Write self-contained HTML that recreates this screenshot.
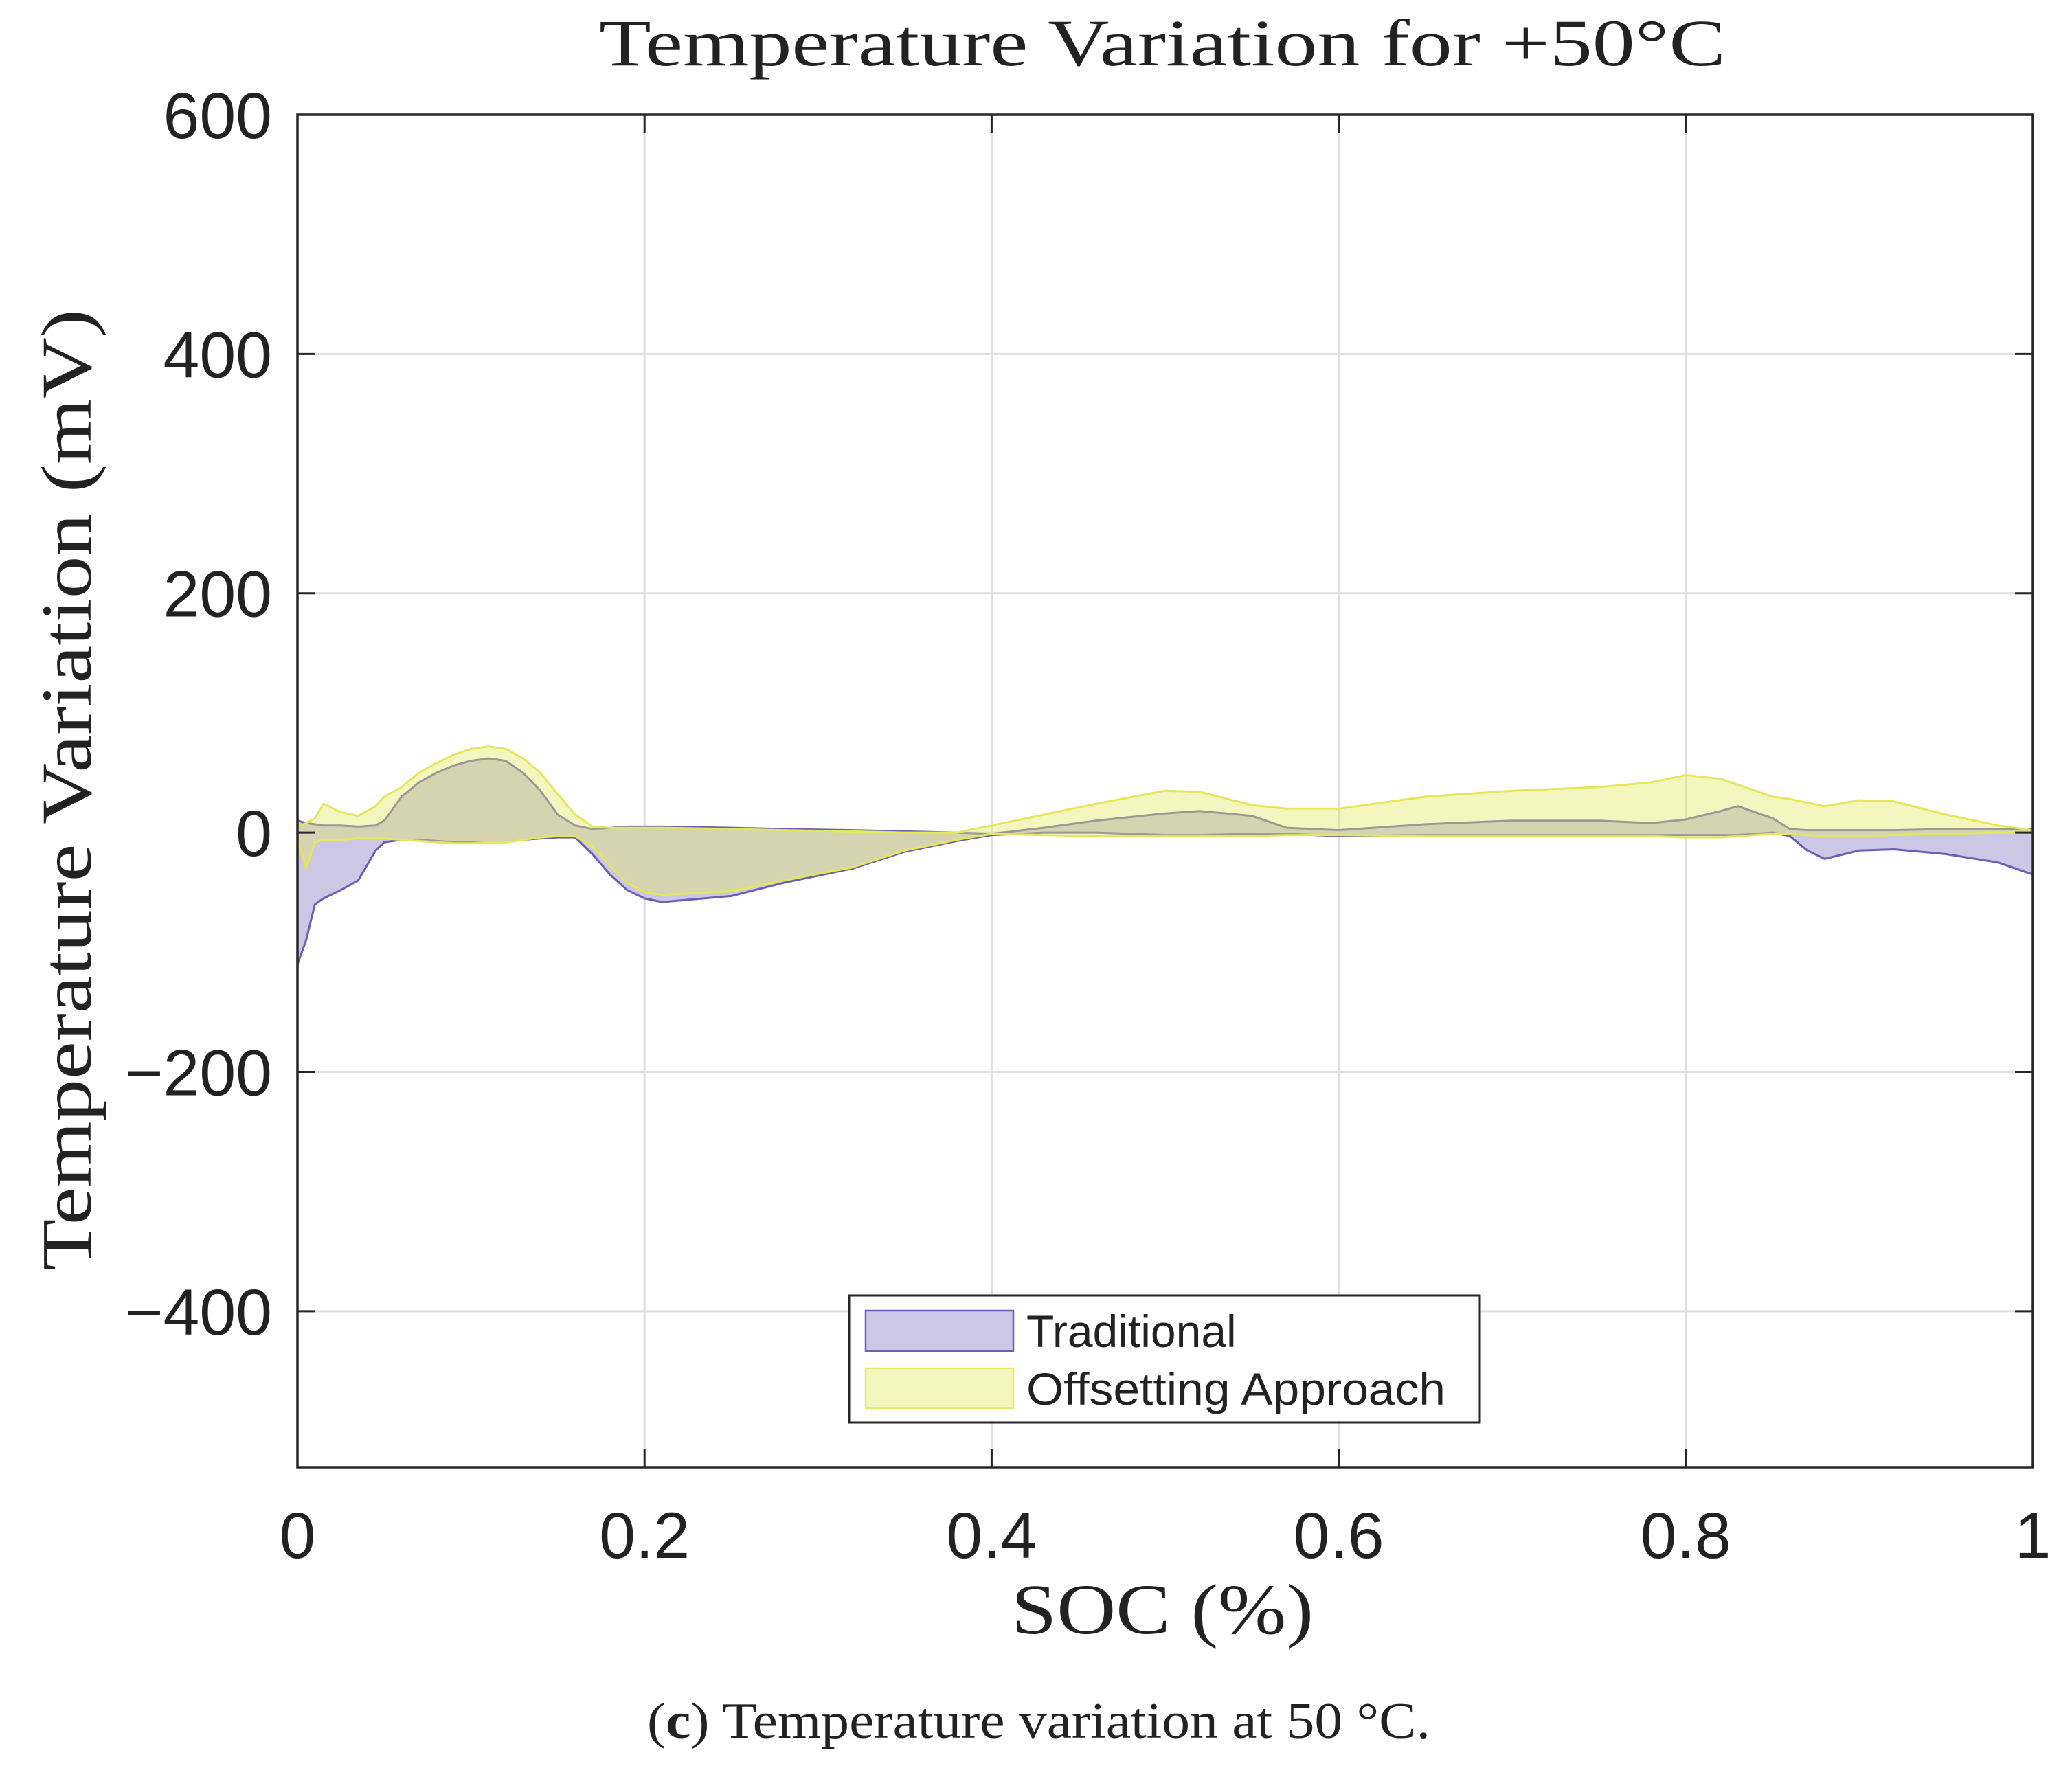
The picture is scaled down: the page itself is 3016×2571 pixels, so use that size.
<!DOCTYPE html>
<html><head><meta charset="utf-8"><style>
html,body{margin:0;padding:0;background:#fff;}
svg{display:block;}
</style></head><body>
<svg id="chart" xmlns="http://www.w3.org/2000/svg" width="3016" height="2571" viewBox="0 0 3016 2571">
<rect x="0" y="0" width="3016" height="2571" fill="#fff"/>
<g id="grid"></g>
<g id="series"></g>
<g id="axes"></g>
<text x="1692" y="95" text-anchor="middle" font-family="Liberation Serif, serif" font-size="96" fill="#222" textLength="1640" lengthAdjust="spacingAndGlyphs">Temperature Variation for +50°C</text>
<text x="1692" y="2378" text-anchor="middle" font-family="Liberation Serif, serif" font-size="104" fill="#222" textLength="440" lengthAdjust="spacingAndGlyphs">SOC (%)</text>
<text transform="translate(132,1150) rotate(-90)" text-anchor="middle" font-family="Liberation Serif, serif" font-size="104" fill="#222" textLength="1400" lengthAdjust="spacingAndGlyphs">Temperature Variation (mV)</text>
<text x="1512" y="2530" text-anchor="middle" font-family="Liberation Serif, serif" font-size="74" fill="#222" textLength="1140" lengthAdjust="spacingAndGlyphs">(<tspan font-weight="bold">c</tspan>) Temperature variation at 50 °C.</text>
<g>
<rect x="1236" y="1886" width="918" height="185" fill="#fff" stroke="#262626" stroke-width="3"/>
<rect x="1260" y="1908" width="215" height="59" fill="#cbc7e4" stroke="#6a5fb8" stroke-width="2.5"/>
<text x="1494" y="1961" font-family="Liberation Sans, sans-serif" font-size="66" fill="#222">Traditional</text>
<rect x="1260" y="1992" width="215" height="58" fill="#f5f5c0" stroke="#e8e86a" stroke-width="2.5"/>
<text x="1494" y="2045" font-family="Liberation Sans, sans-serif" font-size="66" fill="#222" textLength="610" lengthAdjust="spacingAndGlyphs">Offsetting Approach</text>
</g>
</svg>
<script>
const socValues = [0,0.005,0.01,0.015,0.025,0.035,0.045,0.05,0.06,0.07,0.08,0.09,0.1,0.11,0.12,0.13,0.14,0.15,0.16,0.17,0.18,0.19,0.2,0.21,0.25,0.28,0.32,0.35,0.38,0.4,0.43,0.46,0.5,0.52,0.55,0.57,0.6,0.65,0.7,0.75,0.78,0.8,0.82,0.83,0.85,0.86,0.87,0.88,0.9,0.92,0.95,0.98,1];
const traditionalUpper = [10,8,7,6,6,5,6,10,30,42,50,56,60,62,60,50,35,15,6,3,4,5,5,5,4,3,2,1,0,-1,4,10,16,18,14,4,2,7,10,10,8,11,18,22,12,3,2,2,2,2,3,3,3];
const traditionalLower = [-110,-90,-60,-55,-48,-40,-15,-8,-6,-6,-7,-8,-8,-8,-8,-6,-5,-4,-4,-18,-35,-48,-55,-58,-53,-42,-30,-16,-7,-2,0,0,-2,-2,-1,-1,-3,-2,-2,-2,-2,-2,-2,-2,0,-3,-15,-22,-15,-14,-18,-25,-35];
const offsetUpper = [5,8,12,24,17,14,22,30,38,50,58,65,70,72,70,62,50,32,15,5,4,4,4,4,3,2,1,0,0,6,15,24,35,34,23,20,20,30,35,38,42,48,45,40,30,28,25,22,27,26,15,6,2];
const offsetLower = [-5,-30,-8,-6,-6,-5,-5,-5,-6,-7,-8,-9,-9,-8,-8,-6,-4,-3,-3,-12,-28,-42,-50,-52,-49,-40,-29,-15,-6,-1,-2,-3,-3,-3,-3,-2,-2,-3,-3,-3,-3,-4,-4,-3,-1,-1,-2,-3,-3,-2,-1,0,0];
const xTicks = [0,0.2,0.4,0.6,0.8,1];
const xTickLabels = ["0","0.2","0.4","0.6","0.8","1"];
const yTicks = [600,400,200,0,-200,-400];
const yTickLabels = ["600","400","200","0","\u2212200","\u2212400"];

const NS = "http://www.w3.org/2000/svg";
const L = 433, R = 2959, T = 167, B = 2136;
const yMax = 600, yMin = -530.4;
function xs(v){ return L + (R - L) * v; }
function ys(v){ return T + (B - T) * (yMax - v) / (yMax - yMin); }
function mk(tag, attrs, parent){ const e = document.createElementNS(NS, tag); for (const k in attrs) e.setAttribute(k, attrs[k]); parent.appendChild(e); return e; }

const grid = document.getElementById('grid');
const axes = document.getElementById('axes');
const series = document.getElementById('series');

xTicks.forEach((t, i) => {
  if (t > 0 && t < 1) {
    const g = mk('line', {x1: xs(t), x2: xs(t), y1: T, y2: B, stroke: '#dedede', 'stroke-width': 3}, grid);
    
    
  }
  const tk = mk('path', {d: `M${xs(t)},${B}v-26M${xs(t)},${T}v26`, stroke: '#262626', 'stroke-width': 3, fill: 'none'}, axes);
  
  
  const lb = mk('text', {x: xs(t), y: 2268, 'text-anchor': 'middle', 'font-family': 'Liberation Sans, sans-serif', 'font-size': 95, fill: '#222'}, axes);
  lb.textContent = xTickLabels[i];
  
  
});
yTicks.forEach((t, i) => {
  const g = mk('line', {x1: L, x2: R, y1: ys(t), y2: ys(t), stroke: '#dedede', 'stroke-width': 3}, grid);
  
  
  const tk = mk('path', {d: `M${L},${ys(t)}h26M${R},${ys(t)}h-26`, stroke: '#262626', 'stroke-width': 3, fill: 'none'}, axes);
  
  
  const lb = mk('text', {x: 396, y: ys(t) + 34, 'text-anchor': 'end', 'font-family': 'Liberation Sans, sans-serif', 'font-size': 95, fill: '#222'}, axes);
  lb.textContent = yTickLabels[i];
  
  
});
const frame = mk('rect', {x: L, y: T, width: R - L, height: B - T, fill: 'none', stroke: '#262626', 'stroke-width': 3.5}, axes);



function band(upper, lower){
  let d = '';
  socValues.forEach((x, i) => { d += (i ? 'L' : 'M') + xs(x).toFixed(1) + ',' + ys(upper[i]).toFixed(1); });
  for (let i = socValues.length - 1; i >= 0; i--) d += 'L' + xs(socValues[i]).toFixed(1) + ',' + ys(lower[i]).toFixed(1);
  return d + 'Z';
}
const trad = mk('path', {d: band(traditionalUpper, traditionalLower), fill: '#cbc7e4', stroke: '#6a5fb8', 'stroke-width': 3, 'stroke-linejoin': 'round'}, series);


const off = mk('path', {d: band(offsetUpper, offsetLower), fill: 'rgba(230,230,101,0.41)', stroke: '#e6e65a', 'stroke-width': 3, 'stroke-linejoin': 'round'}, series);


</script>
</body></html>
